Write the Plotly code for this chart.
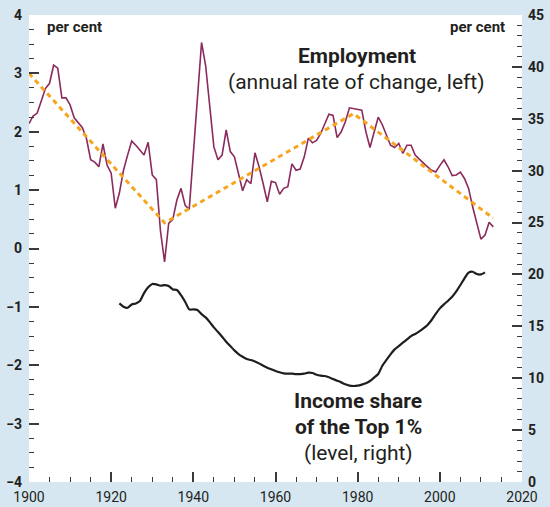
import plotly.graph_objects as go

emp_years = list(range(1900, 2014))
emp_values = [
    2.14, 2.27, 2.32, 2.52, 2.74, 2.83, 3.14, 3.09, 2.58, 2.58,
    2.46, 2.24, 2.15, 2.07, 1.88, 1.52, 1.48, 1.40, 1.79, 1.43,
    1.29, 0.69, 0.95, 1.34, 1.60, 1.84, 1.77, 1.69, 1.60, 1.82,
    1.26, 1.18, 0.30, -0.23, 0.43, 0.50, 0.83, 1.03, 0.74, 0.67,
    1.60, 2.56, 3.53, 3.13, 2.43, 1.74, 1.52, 1.60, 2.03, 1.66,
    1.57, 1.29, 0.99, 1.18, 1.11, 1.64, 1.40, 1.11, 0.80, 1.15,
    1.13, 0.93, 1.03, 1.06, 1.45, 1.34, 1.36, 1.57, 1.89, 1.81,
    1.85, 1.97, 2.14, 2.30, 2.28, 1.90, 2.00, 2.17, 2.41, 2.40,
    2.38, 2.37, 2.00, 1.73, 1.99, 2.25, 2.12, 1.94, 1.77, 1.73,
    1.80, 1.63, 1.77, 1.77, 1.60, 1.53, 1.46, 1.40, 1.34, 1.31,
    1.42, 1.52, 1.40, 1.25, 1.26, 1.31, 1.20, 1.03, 0.71, 0.42,
    0.16, 0.23, 0.45, 0.37,
]

trend_years = [1900, 1933, 1979, 2013]
trend_values = [3.0, 0.44, 2.31, 0.52]

income_years = list(range(1922, 2012))
income_values = [
    17.21, 16.89, 16.79, 17.11, 17.21, 17.44, 18.20, 18.76,
    19.08, 19.04, 18.91, 18.98, 18.88, 18.56, 18.50, 18.01, 17.37, 16.63,
    16.63, 16.57, 16.18, 15.86, 15.41, 14.90, 14.45, 14.00, 13.52, 13.10,
    12.68, 12.33, 12.07, 11.85, 11.75, 11.62, 11.43, 11.21, 11.02, 10.86,
    10.70, 10.57, 10.47, 10.44, 10.44, 10.40, 10.40, 10.44, 10.53, 10.50,
    10.33, 10.25, 10.21, 10.09, 9.92, 9.76, 9.60, 9.41, 9.28, 9.25,
    9.28, 9.38, 9.51, 9.73, 10.06, 10.41, 11.20, 11.76, 12.30, 12.78,
    13.10, 13.42, 13.74, 14.06, 14.26, 14.51, 14.80, 15.13, 15.61, 16.19,
    16.73, 17.12, 17.47, 17.86, 18.37, 18.98, 19.62, 20.17, 20.26, 20.04,
    20.00, 20.20,
]

FONT = "Roboto"
TXT = "#231f20"
TICK = "#3a3a3a"

fig = go.Figure()
fig.add_trace(go.Scatter(x=income_years, y=income_values, yaxis="y2", mode="lines",
                         line=dict(color="#1e1e1e", width=2.2, shape="spline", smoothing=0.6),
                         hoverinfo="skip", showlegend=False))
fig.add_trace(go.Scatter(x=emp_years, y=emp_values, mode="lines",
                         line=dict(color="#8b2a5c", width=1.6),
                         hoverinfo="skip", showlegend=False))
fig.add_trace(go.Scatter(x=trend_years, y=trend_values, mode="lines",
                         line=dict(color="#f6a51f", width=3, dash="5px,4px"),
                         hoverinfo="skip", showlegend=False))

common = dict(ticks="inside", ticklen=10, tickwidth=1.5, tickcolor=TICK,
              showgrid=False, zeroline=False, showline=False, automargin=False)

fig.update_layout(
    width=550, height=507,
    margin=dict(l=29, r=28, t=15, b=25),
    paper_bgcolor="#d6e7f1",
    plot_bgcolor="#ffffff",
    font=dict(family=FONT, color=TXT),
    xaxis=dict(range=[1900, 2020], tickmode="linear", tick0=1900, dtick=20,
               minor=dict(dtick=5, ticks="inside", ticklen=5, tickwidth=1.2, tickcolor=TICK),
               ticklabelstandoff=5,
               tickfont=dict(size=14, color=TXT, family=FONT), **common),
    yaxis=dict(range=[-4, 4], tickmode="linear", tick0=-4, dtick=1,
               minor=dict(dtick=0.25, ticks="inside", ticklen=5, tickwidth=1.2, tickcolor=TICK),
               ticklabelstandoff=6,
               tickfont=dict(size=14, color=TXT, family=FONT, weight="bold"), **common),
    yaxis2=dict(range=[0, 45], overlaying="y", side="right", tickmode="linear", tick0=0, dtick=5,
                minor=dict(dtick=1, ticks="inside", ticklen=5, tickwidth=1.2, tickcolor=TICK),
                ticklabelstandoff=5,
                tickfont=dict(size=14, color=TXT, family=FONT, weight="bold"), **common),
)

ann = [
    dict(text="per cent", x=45, y=27, xanchor="left", size=15, bold=True),
    dict(text="per cent", x=507, y=27, xanchor="right", size=15, bold=True),
    dict(text="Employment", x=357, y=56, xanchor="center", size=21, bold=True),
    dict(text="(annual rate of change, left)", x=356, y=82, xanchor="center", size=21, bold=False),
    dict(text="Income share", x=358, y=401, xanchor="center", size=21, bold=True),
    dict(text="of the Top 1%", x=358, y=427, xanchor="center", size=21, bold=True),
    dict(text="(level, right)", x=358, y=453, xanchor="center", size=21, bold=False),
]
for a in ann:
    fig.add_annotation(
        text=a["text"], xref="paper", yref="paper",
        x=(a["x"] - 29) / (550 - 29 - 28), y=1 - (a["y"] - 15) / (507 - 15 - 25),
        xanchor=a["xanchor"], yanchor="middle", showarrow=False,
        font=dict(family=FONT, size=a["size"], color=TXT, weight="bold" if a["bold"] else "normal"),
    )

fig.write_html("out.html", config={"displayModeBar": False},
               post_script="document.body.style.margin='0';document.body.style.padding='0';"
                           "document.body.style.overflow='hidden';")
